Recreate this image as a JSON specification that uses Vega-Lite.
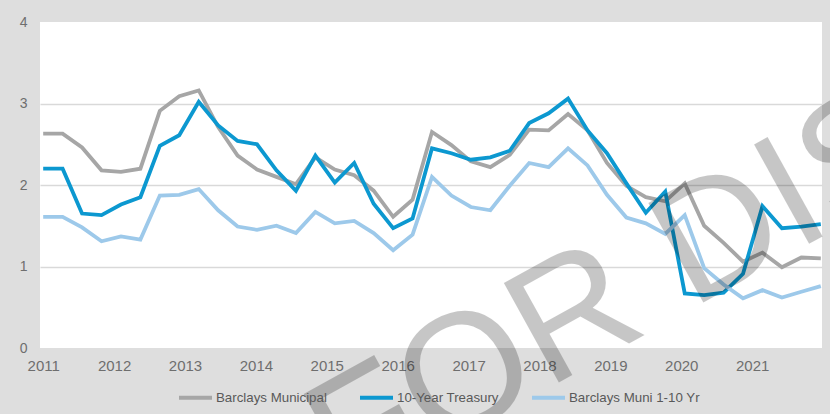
{
  "$schema": "https://vega.github.io/schema/vega-lite/v6.json",
  "width": 782,
  "height": 326,
  "autosize": {"type": "none"},
  "padding": {"left": 40, "top": 22, "right": 8, "bottom": 66},
  "background": "#dedede",
  "config": {
    "view": {"fill": "white", "stroke": null},
    "font": "Liberation Sans"
  },
  "datasets": {
    "rates": [
      {"t": 2011.000, "Barclays Municipal": 2.63, "10-Year Treasury": 2.20, "Barclays Muni 1-10 Yr": 1.61},
      {"t": 2011.274, "Barclays Municipal": 2.63, "10-Year Treasury": 2.20, "Barclays Muni 1-10 Yr": 1.61},
      {"t": 2011.548, "Barclays Municipal": 2.46, "10-Year Treasury": 1.65, "Barclays Muni 1-10 Yr": 1.48},
      {"t": 2011.823, "Barclays Municipal": 2.18, "10-Year Treasury": 1.63, "Barclays Muni 1-10 Yr": 1.31},
      {"t": 2012.097, "Barclays Municipal": 2.16, "10-Year Treasury": 1.76, "Barclays Muni 1-10 Yr": 1.37},
      {"t": 2012.371, "Barclays Municipal": 2.20, "10-Year Treasury": 1.85, "Barclays Muni 1-10 Yr": 1.33},
      {"t": 2012.645, "Barclays Municipal": 2.91, "10-Year Treasury": 2.48, "Barclays Muni 1-10 Yr": 1.87},
      {"t": 2012.919, "Barclays Municipal": 3.09, "10-Year Treasury": 2.61, "Barclays Muni 1-10 Yr": 1.88},
      {"t": 2013.194, "Barclays Municipal": 3.16, "10-Year Treasury": 3.02, "Barclays Muni 1-10 Yr": 1.95},
      {"t": 2013.468, "Barclays Municipal": 2.71, "10-Year Treasury": 2.73, "Barclays Muni 1-10 Yr": 1.69},
      {"t": 2013.742, "Barclays Municipal": 2.36, "10-Year Treasury": 2.54, "Barclays Muni 1-10 Yr": 1.49},
      {"t": 2014.016, "Barclays Municipal": 2.19, "10-Year Treasury": 2.50, "Barclays Muni 1-10 Yr": 1.45},
      {"t": 2014.290, "Barclays Municipal": 2.10, "10-Year Treasury": 2.18, "Barclays Muni 1-10 Yr": 1.50},
      {"t": 2014.565, "Barclays Municipal": 2.01, "10-Year Treasury": 1.93, "Barclays Muni 1-10 Yr": 1.41},
      {"t": 2014.839, "Barclays Municipal": 2.34, "10-Year Treasury": 2.36, "Barclays Muni 1-10 Yr": 1.67},
      {"t": 2015.113, "Barclays Municipal": 2.19, "10-Year Treasury": 2.03, "Barclays Muni 1-10 Yr": 1.53},
      {"t": 2015.387, "Barclays Municipal": 2.12, "10-Year Treasury": 2.27, "Barclays Muni 1-10 Yr": 1.56},
      {"t": 2015.661, "Barclays Municipal": 1.93, "10-Year Treasury": 1.77, "Barclays Muni 1-10 Yr": 1.41},
      {"t": 2015.936, "Barclays Municipal": 1.61, "10-Year Treasury": 1.47, "Barclays Muni 1-10 Yr": 1.20},
      {"t": 2016.210, "Barclays Municipal": 1.82, "10-Year Treasury": 1.59, "Barclays Muni 1-10 Yr": 1.39},
      {"t": 2016.484, "Barclays Municipal": 2.65, "10-Year Treasury": 2.45, "Barclays Muni 1-10 Yr": 2.10},
      {"t": 2016.758, "Barclays Municipal": 2.49, "10-Year Treasury": 2.39, "Barclays Muni 1-10 Yr": 1.87},
      {"t": 2017.032, "Barclays Municipal": 2.29, "10-Year Treasury": 2.31, "Barclays Muni 1-10 Yr": 1.73},
      {"t": 2017.307, "Barclays Municipal": 2.22, "10-Year Treasury": 2.34, "Barclays Muni 1-10 Yr": 1.69},
      {"t": 2017.581, "Barclays Municipal": 2.37, "10-Year Treasury": 2.42, "Barclays Muni 1-10 Yr": 1.99},
      {"t": 2017.855, "Barclays Municipal": 2.68, "10-Year Treasury": 2.76, "Barclays Muni 1-10 Yr": 2.27},
      {"t": 2018.129, "Barclays Municipal": 2.67, "10-Year Treasury": 2.88, "Barclays Muni 1-10 Yr": 2.22},
      {"t": 2018.403, "Barclays Municipal": 2.87, "10-Year Treasury": 3.06, "Barclays Muni 1-10 Yr": 2.45},
      {"t": 2018.678, "Barclays Municipal": 2.67, "10-Year Treasury": 2.67, "Barclays Muni 1-10 Yr": 2.24},
      {"t": 2018.952, "Barclays Municipal": 2.27, "10-Year Treasury": 2.39, "Barclays Muni 1-10 Yr": 1.88},
      {"t": 2019.226, "Barclays Municipal": 1.99, "10-Year Treasury": 2.02, "Barclays Muni 1-10 Yr": 1.60},
      {"t": 2019.500, "Barclays Municipal": 1.85, "10-Year Treasury": 1.66, "Barclays Muni 1-10 Yr": 1.53},
      {"t": 2019.774, "Barclays Municipal": 1.80, "10-Year Treasury": 1.92, "Barclays Muni 1-10 Yr": 1.40},
      {"t": 2020.049, "Barclays Municipal": 2.02, "10-Year Treasury": 0.67, "Barclays Muni 1-10 Yr": 1.63},
      {"t": 2020.323, "Barclays Municipal": 1.50, "10-Year Treasury": 0.65, "Barclays Muni 1-10 Yr": 0.98},
      {"t": 2020.597, "Barclays Municipal": 1.29, "10-Year Treasury": 0.68, "Barclays Muni 1-10 Yr": 0.78},
      {"t": 2020.871, "Barclays Municipal": 1.06, "10-Year Treasury": 0.91, "Barclays Muni 1-10 Yr": 0.61},
      {"t": 2021.145, "Barclays Municipal": 1.17, "10-Year Treasury": 1.74, "Barclays Muni 1-10 Yr": 0.71},
      {"t": 2021.420, "Barclays Municipal": 0.99, "10-Year Treasury": 1.47, "Barclays Muni 1-10 Yr": 0.62},
      {"t": 2021.694, "Barclays Municipal": 1.11, "10-Year Treasury": 1.49, "Barclays Muni 1-10 Yr": 0.69},
      {"t": 2021.968, "Barclays Municipal": 1.10, "10-Year Treasury": 1.52, "Barclays Muni 1-10 Yr": 0.76}
    ],
    "watermark": [
      {"t": 2015.281, "v": -1.865, "label": "FOR DISCUSSION"}
    ]
  },
  "layer": [
    {
      "data": {"name": "rates"},
      "transform": [
        {"fold": ["Barclays Municipal", "10-Year Treasury", "Barclays Muni 1-10 Yr"], "as": ["series", "v"]}
      ],
      "mark": {"type": "line", "strokeWidth": 3.8, "strokeJoin": "miter", "strokeCap": "butt"},
      "encoding": {
        "x": {
          "field": "t", "type": "quantitative",
          "scale": {"domain": [2010.955, 2021.985], "nice": false, "zero": false},
          "axis": {
            "title": null,
            "values": [2011, 2012, 2013, 2014, 2015, 2016, 2017, 2018, 2019, 2020, 2021],
            "format": "d",
            "grid": false,
            "domain": false,
            "ticks": false,
            "labelFlush": false,
            "labelFontSize": 15,
            "labelColor": "#6e6e6e",
            "labelPadding": 10
          }
        },
        "y": {
          "field": "v", "type": "quantitative",
          "scale": {"domain": [0, 4], "nice": false},
          "axis": {
            "title": null,
            "values": [0, 1, 2, 3, 4],
            "format": "d",
            "grid": true,
            "gridColor": "#d9d9d9",
            "gridWidth": 1.5,
            "gridOpacity": {"condition": {"test": "datum.value == 0 || datum.value == 4", "value": 0}, "value": 1},
            "domain": false,
            "ticks": false,
            "labelFontSize": 14,
            "labelColor": "#6e6e6e",
            "labelPadding": 13
          }
        },
        "color": {
          "field": "series", "type": "nominal",
          "sort": ["Barclays Municipal", "10-Year Treasury", "Barclays Muni 1-10 Yr"],
          "scale": {
            "domain": ["Barclays Municipal", "10-Year Treasury", "Barclays Muni 1-10 Yr"],
            "range": ["#a6a6a6", "#0c98d0", "#9dc9ea"]
          },
          "legend": {
            "title": null,
            "orient": "none",
            "legendX": 137,
            "legendY": 357,
            "direction": "horizontal",
            "symbolType": "stroke",
            "symbolSize": 1089,
            "symbolStrokeWidth": 4,
            "labelFontSize": 13.3,
            "labelColor": "#595959",
            "labelOffset": 2,
            "columnPadding": 25,
            "padding": 0
          }
        }
      }
    },
    {
      "data": {"name": "watermark"},
      "mark": {
        "type": "text",
        "angle": 331,
        "align": "left",
        "baseline": "alphabetic",
        "fontSize": 165,
        "font": "Liberation Sans",
        "color": "#000000",
        "opacity": 0.22
      },
      "encoding": {
        "x": {"field": "t", "type": "quantitative"},
        "y": {"field": "v", "type": "quantitative"},
        "text": {"field": "label"}
      }
    }
  ]
}
